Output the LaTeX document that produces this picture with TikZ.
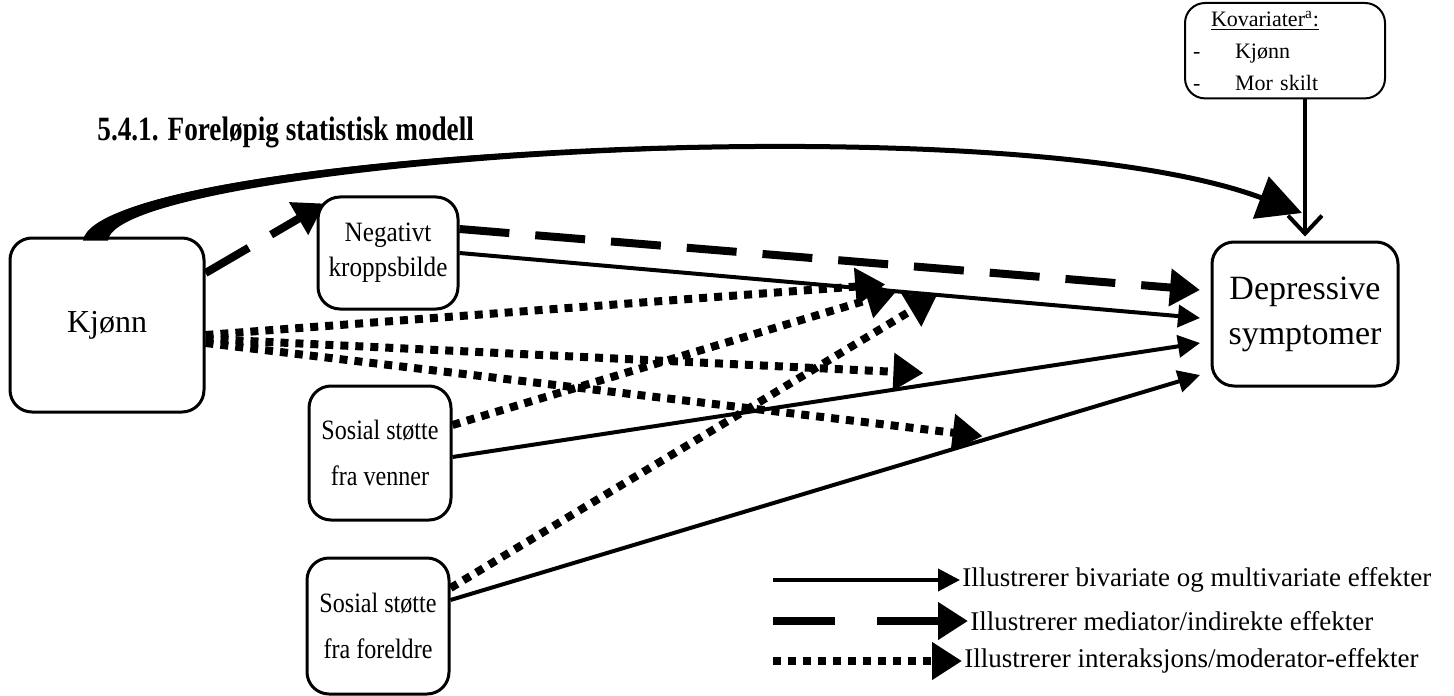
\documentclass[tikz,border=0pt]{standalone}
\usepackage{fontspec}
\setmainfont{Liberation Serif}
\newfontfamily\titlefont{Liberation Serif}[FakeStretch=0.8]
\newfontfamily\sosialfont{Liberation Serif}[FakeStretch=0.86]
\newfontfamily\negfont{Liberation Serif}[FakeStretch=0.9]
\usetikzlibrary{arrows.meta, positioning}

\begin{document}
\begin{tikzpicture}[x=0.5pt,y=-0.5pt,
      box/.style={draw,line width=1.5pt,rounded corners=11pt,align=center,inner sep=2pt},
      eff/.style={line width=2pt,-{Triangle[length=11pt,width=11pt]}},
      med/.style={line width=4pt,dash pattern=on 25pt off 13pt,-{Triangle[length=15pt,width=18pt]}},
      mod/.style={line width=4pt,dash pattern=on 4pt off 3.5pt,-{Triangle[length=15pt,width=18pt]}}]
      \useasboundingbox (0,0) rectangle (1454,695);
      \node[anchor=base west,inner sep=0pt,font=\titlefont\bfseries\fontsize{17}{20}\selectfont] (title) at (97,141) {5.4.1. Foreløpig statistisk modell};
      % variables
      \node[box,minimum width=97pt,minimum height=87pt,font=\fontsize{16}{19}\selectfont] (kjonn) at (107,325) {Kjønn};
      \node[box,minimum width=70pt,minimum height=56pt,font=\negfont\fontsize{14}{17.5}\selectfont] (neg) at (388,253) {Negativt\\kroppsbilde};
      \node[box,minimum width=71pt,minimum height=67pt,font=\sosialfont\fontsize{14}{23}\selectfont] (venner) at (380,453) {Sosial støtte\\fra venner};
      \node[box,minimum width=71pt,minimum height=68pt,font=\sosialfont\fontsize{14}{23}\selectfont] (foreldre) at (378,626) {Sosial støtte\\fra foreldre};
      \node[box,minimum width=93pt,minimum height=72pt,font=\fontsize{17}{22.5}\selectfont] (dep) at (1305,314) {Depressive\\symptomer};
      \node[box,line width=1pt,rounded corners=10pt,align=left,anchor=north west,text width=92pt,inner xsep=4pt,inner ysep=4pt,font=\fontsize{11}{16}\selectfont] (kov) at (1184,2) {\hspace*{9pt}\underline{Kovariater\textsuperscript{a}:}\\\makebox[21pt][l]{-}Kjønn\\\makebox[21pt][l]{-}Mor skilt};
      % arrow ends at the outcome
      \coordinate (d1) at (1200,290);
      \coordinate (d2) at (1200,318);
      \coordinate (d3) at (1200,343);
      \coordinate (d4) at (1200,375);
      \coordinate (cend) at (1302,213);
      \coordinate (cbase) at (1261,198);
      % direct and mediated effects
      \fill ([xshift=-12pt,yshift=-2pt]kjonn.north) .. controls (96,152) and (1000,100) .. (cbase)
            .. controls (1000,100) and (116,164) .. ([xshift=0.5pt,yshift=-2pt]kjonn.north) -- cycle;
      \draw[line width=2.5pt,-{Triangle[length=22pt,width=22pt]}] ([xshift=-6pt]kjonn.north) .. controls (106,158) and (1000,100) .. (cend);
      \draw[line width=2pt,-{Straight Barb[length=9pt,width=17pt]}] (kov.south -| dep.north) -- ([yshift=2pt]dep.north);
      \draw[med] ([yshift=26pt]kjonn.east) -- ([xshift=4pt,yshift=-4pt]neg.north west);
      \draw[med] ([yshift=12pt]neg.east) -- (d1);
      \draw[eff] (neg.east) -- (d2);
      \draw[eff] ([yshift=-2pt]venner.east) -- (d3);
      \draw[eff] ([yshift=13pt]foreldre.east) -- (d4);
      % interaction effects
      \path (neg.east) -- (d2) coordinate[pos=0.575] (t1) coordinate[pos=0.59] (t2) coordinate[pos=0.645] (t3);
      \path ([yshift=-2pt]venner.east) -- (d3) coordinate[pos=0.63] (t4);
      \path ([yshift=13pt]foreldre.east) -- (d4) coordinate[pos=0.71] (t5);
      \draw[mod] ([yshift=-5pt]kjonn.east) -- ([yshift=3pt]t1);
      \draw[mod] ([yshift=-7pt]kjonn.east) -- ([yshift=6pt]t4);
      \draw[mod] ([yshift=-9pt]kjonn.east) -- ([yshift=2pt]t5);
      \draw[mod] ([yshift=14pt]venner.east) -- (t2);
      \draw[mod] ([yshift=19pt]foreldre.east) -- (t3);
      % legend
      \node[anchor=west,inner xsep=1pt,font=\fontsize{13.5}{16}\selectfont] (leg1) at (960,580) {Illustrerer bivariate og multivariate effekter};
      \node[anchor=west,inner xsep=1pt,font=\fontsize{13.5}{16}\selectfont] (leg2) at (968,621) {Illustrerer mediator/indirekte effekter};
      \node[anchor=west,inner xsep=1pt,font=\fontsize{13.5}{16}\selectfont] (leg3) at (962,661) {Illustrerer interaksjons/moderator-effekter};
      \coordinate (l1) at (773,580);
      \coordinate (l2) at (773,621);
      \coordinate (l3) at (773,661);
      \draw[eff] (l1) -- (leg1.west);
      \draw[med,dash pattern=on 31pt off 21pt] (l2) -- (leg2.west);
      \draw[mod] (l3) -- (leg3.west);
\end{tikzpicture}
\end{document}
